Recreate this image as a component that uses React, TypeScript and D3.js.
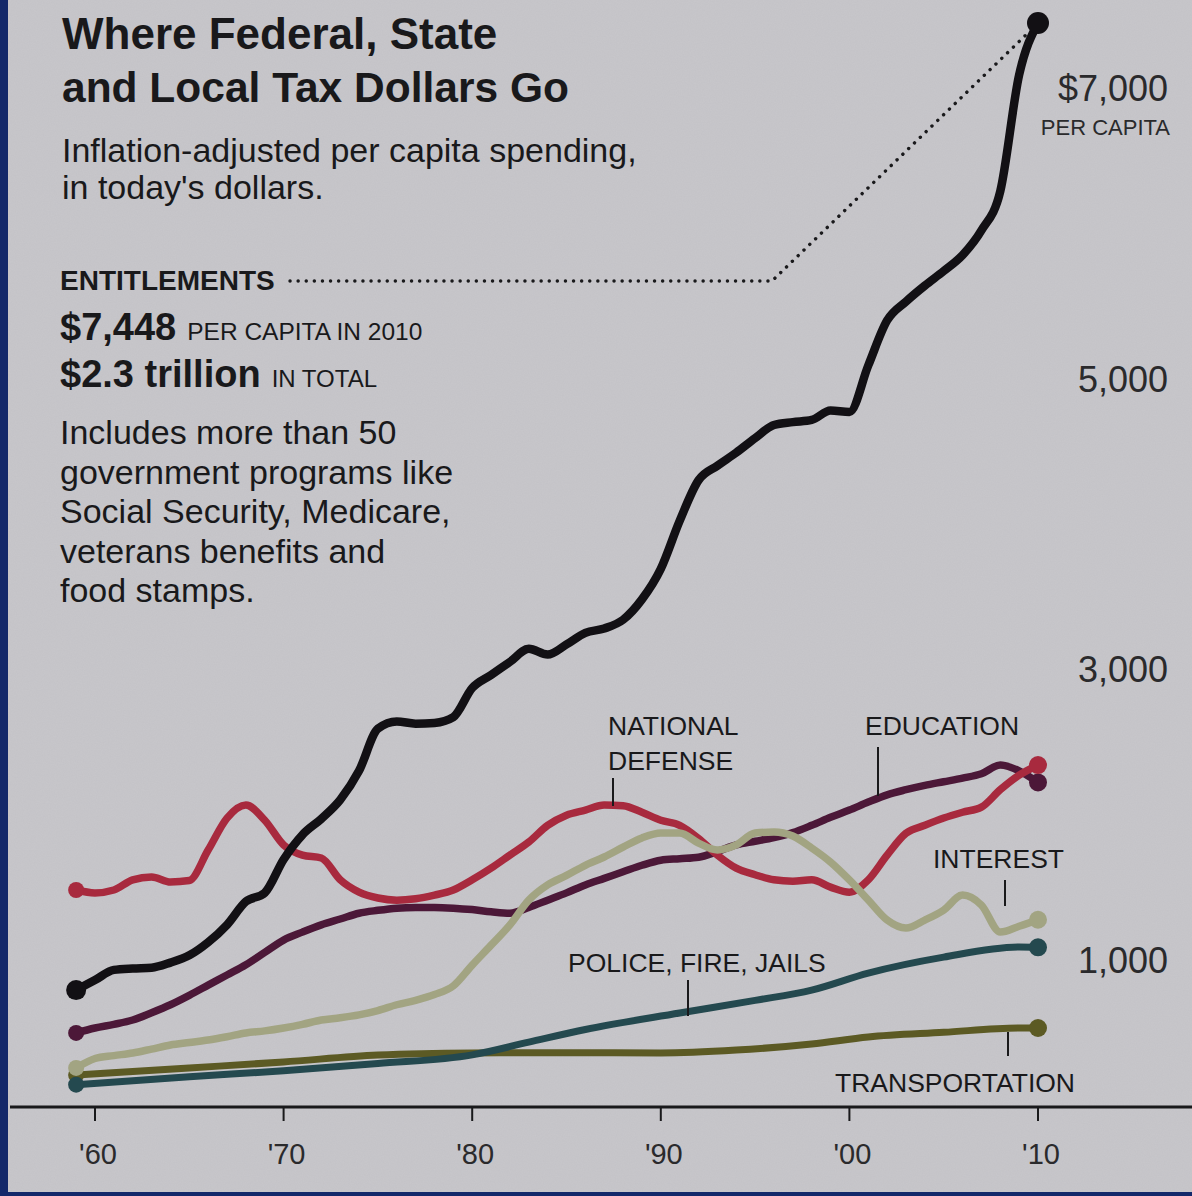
import React from "react";
import * as d3 from "d3";

// ---------- DATA ----------
const decadeTicks = [1960, 1970, 1980, 1990, 2000, 2010];
const decadeLabels = ["'60", "'70", "'80", "'90", "'00", "'10"];
const yTickValues = [7000, 5000, 3000, 1000];
const yTickLabels = ["$7,000", "5,000", "3,000", "1,000"];

const yearsAnnual = [
  1959, 1960, 1961, 1962, 1963, 1964, 1965, 1966, 1967, 1968, 1969,
  1970, 1971, 1972, 1973, 1974, 1975, 1976, 1977, 1978, 1979,
  1980, 1981, 1982, 1983, 1984, 1985, 1986, 1987, 1988, 1989,
  1990, 1991, 1992, 1993, 1994, 1995, 1996, 1997, 1998, 1999,
  2000, 2001, 2002, 2003, 2004, 2005, 2006, 2007, 2008, 2009, 2010,
];

const entitlements = [
  791, 860, 930, 940, 945, 980, 1030, 1120, 1240, 1400, 1460,
  1690, 1860, 1970, 2100, 2300, 2590, 2640, 2625, 2630, 2670,
  2870, 2960, 3050, 3140, 3100, 3170, 3250, 3280, 3340, 3480,
  3690, 4020, 4300, 4400, 4490, 4590, 4680, 4700, 4715, 4780,
  4770, 5090, 5400, 5530, 5640, 5740, 5850, 6020, 6290, 7090, 7448,
];

const defense = [
  1480, 1460, 1480, 1550, 1570, 1535, 1545, 1755, 1975, 2065, 1960,
  1790, 1720, 1700, 1550, 1465, 1425, 1410, 1420, 1445, 1480,
  1550, 1630, 1720, 1810, 1925, 1995, 2030, 2065, 2060, 2015,
  1960, 1925, 1835, 1720, 1630, 1585, 1550, 1540, 1550, 1500,
  1465, 1550, 1720, 1870, 1925, 1975, 2015, 2050, 2170, 2270, 2340,
];

const education = [
  496, 530, 555, 585, 635, 690, 755, 825, 895, 965, 1050,
  1135, 1190, 1240, 1280, 1320, 1340, 1355, 1360, 1360, 1355,
  1345, 1330, 1320, 1360, 1410, 1460, 1515, 1560, 1605, 1650,
  1685, 1695, 1705, 1745, 1790, 1815, 1840, 1875, 1925, 1980,
  2030, 2085, 2135, 2170, 2200, 2225, 2250, 2280, 2340, 2300, 2220,
];

const interest = [
  255, 320, 340, 358, 385, 413, 430, 447, 470, 496, 510,
  530, 555, 585, 600, 620, 650, 690, 720, 760, 820,
  963, 1100, 1240, 1410, 1515, 1580, 1650, 1707, 1775, 1838,
  1872, 1872, 1803, 1755, 1790, 1872, 1879, 1851, 1769, 1672,
  1549, 1411, 1273, 1218, 1273, 1342, 1445, 1376, 1190, 1230, 1275,
];

const policeYears = [1959, 1965, 1970, 1975, 1980, 1983, 1986, 1991, 1995, 1998, 2001, 2005, 2009, 2010];
const police = [140, 195, 235, 285, 345, 433, 520, 633, 720, 791, 908, 1018, 1087, 1085];

const transportYears = [1959, 1965, 1970, 1975, 1980, 1985, 1990, 1994, 1998, 2001, 2005, 2009, 2010];
const transportation = [206, 255, 296, 344, 358, 360, 358, 378, 420, 468, 500, 530, 530];

// ---------- LAYOUT ----------
const W = 1192;
const H = 1196;
const FONT = "'Liberation Sans', Arial, Helvetica, sans-serif";
const BG = "#c8c7cb";
const INK = "#19191b";

const x = d3.scaleLinear().domain([1960, 2010]).range([95, 1038]);
const y = d3.scaleLinear().domain([0, 7000]).range([1105, 88]);

type Series = {
  key: string;
  years: number[];
  values: number[];
  color: string;
  width: number;
  r: number;
};

const series: Series[] = [
  { key: "transportation", years: transportYears, values: transportation, color: "#5c5a24", width: 7, r: 9 },
  { key: "police", years: policeYears, values: police, color: "#24494f", width: 7, r: 9 },
  { key: "education", years: yearsAnnual, values: education, color: "#4c1838", width: 7.5, r: 9 },
  { key: "defense", years: yearsAnnual, values: defense, color: "#a82a3e", width: 7.5, r: 9 },
  { key: "interest", years: yearsAnnual, values: interest, color: "#a2a482", width: 7.5, r: 9 },
  { key: "entitlements", years: yearsAnnual, values: entitlements, color: "#121014", width: 8.5, r: 11 },
];

const lineGen = d3
  .line<[number, number]>()
  .x((d) => x(d[0]))
  .y((d) => y(d[1]))
  .curve(d3.curveMonotoneX);

export default function App() {
  const ent = series[series.length - 1];
  const ex = ent.years[ent.years.length - 1];
  const ev = ent.values[ent.values.length - 1];

  return (
    <svg
      width={W}
      height={H}
      viewBox={`0 0 ${W} ${H}`}
      style={{ position: "absolute", left: 0, top: 0, display: "block" }}
      fontFamily={FONT}
    >
      <defs>
        <filter id="paper" x="0" y="0" width="100%" height="100%">
          <feTurbulence type="fractalNoise" baseFrequency="0.85" numOctaves="2" seed="3" result="n" />
          <feColorMatrix
            type="matrix"
            values="0 0 0 0 0.40  0 0 0 0 0.40  0 0 0 0 0.43  0 0 0 0.16 0"
          />
        </filter>
      </defs>
      <rect x={0} y={0} width={W} height={H} fill={BG} />
      <rect x={0} y={0} width={W} height={H} filter="url(#paper)" />
      {/* frame edges */}
      <rect x={0} y={0} width={8} height={H} fill="#13286a" />
      <rect x={0} y={1192} width={W} height={4} fill="#13286a" />

      {/* Title block */}
      <text x={62} y={49} fontSize={44} fontWeight="bold" fill={INK}>Where Federal, State</text>
      <text x={62} y={102} fontSize={42.5} fontWeight="bold" fill={INK}>and Local Tax Dollars Go</text>
      <text x={62} y={162} fontSize={34} fill={INK}>Inflation-adjusted per capita spending,</text>
      <text x={62} y={199} fontSize={34} fill={INK}>in today's dollars.</text>

      <text x={60} y={290} fontSize={28} fontWeight="bold" fill={INK}>ENTITLEMENTS</text>
      <text x={60} y={340} fill={INK}>
        <tspan fontSize={38} fontWeight="bold">$7,448</tspan>
        <tspan fontSize={24.5} dx={11}>PER CAPITA IN 2010</tspan>
      </text>
      <text x={60} y={387} fill={INK}>
        <tspan fontSize={38} fontWeight="bold">$2.3 trillion</tspan>
        <tspan fontSize={24} dx={11}>IN TOTAL</tspan>
      </text>
      {[
        "Includes more than 50",
        "government programs like",
        "Social Security, Medicare,",
        "veterans benefits and",
        "food stamps.",
      ].map((t, i) => (
        <text key={t} x={60} y={444 + i * 39.5} fontSize={34} fill={INK}>
          {t}
        </text>
      ))}

      {/* dotted leader from ENTITLEMENTS to 2010 point */}
      <path
        d={`M290,281 L772,281 L${x(ex) - 10},${y(ev) + 10}`}
        fill="none"
        stroke={INK}
        strokeWidth={3.4}
        strokeDasharray="0.1 8"
        strokeLinecap="round"
      />

      {/* y labels */}
      {yTickValues.map((v, i) => (
        <text key={v} x={1168} y={y(v) + 13} fontSize={36} textAnchor="end" fill="#2a2a2c">
          {yTickLabels[i]}
        </text>
      ))}
      <text x={1170} y={y(7000) + 47} fontSize={22} textAnchor="end" fill="#2a2a2c">PER CAPITA</text>

      {/* series */}
      {series.map((s) => {
        const pts: [number, number][] = s.years.map((yr, i) => [yr, s.values[i]]);
        return (
          <g key={s.key}>
            <path d={lineGen(pts) || ""} fill="none" stroke={s.color} strokeWidth={s.width} strokeLinejoin="round" strokeLinecap="round" />
            <circle cx={x(pts[0][0])} cy={y(pts[0][1])} r={s.r - 1} fill={s.color} />
            <circle cx={x(pts[pts.length - 1][0])} cy={y(pts[pts.length - 1][1])} r={s.r} fill={s.color} />
          </g>
        );
      })}

      {/* series labels and leaders */}
      <g fill={INK} fontSize={26.5}>
        <text x={608} y={735}>NATIONAL</text>
        <text x={608} y={770}>DEFENSE</text>
        <text x={865} y={735}>EDUCATION</text>
        <text x={933} y={868}>INTEREST</text>
        <text x={568} y={972}>POLICE, FIRE, JAILS</text>
        <text x={835} y={1092}>TRANSPORTATION</text>
      </g>
      <g stroke={INK} strokeWidth={2}>
        <line x1={613} x2={613} y1={778} y2={806} />
        <line x1={878} x2={878} y1={747} y2={796} />
        <line x1={1005} x2={1005} y1={880} y2={906} />
        <line x1={688} x2={688} y1={980} y2={1016} />
        <line x1={1008} x2={1008} y1={1032} y2={1056} />
      </g>

      {/* x axis */}
      <line x1={10} x2={W} y1={1107} y2={1107} stroke={INK} strokeWidth={3} />
      {decadeTicks.map((t, i) => (
        <g key={t}>
          <line x1={x(t)} x2={x(t)} y1={1107} y2={1121} stroke={INK} strokeWidth={2} />
          <text x={x(t) + 3} y={1164} fontSize={29} textAnchor="middle" fill="#2a2a2c">
            {decadeLabels[i]}
          </text>
        </g>
      ))}
    </svg>
  );
}
